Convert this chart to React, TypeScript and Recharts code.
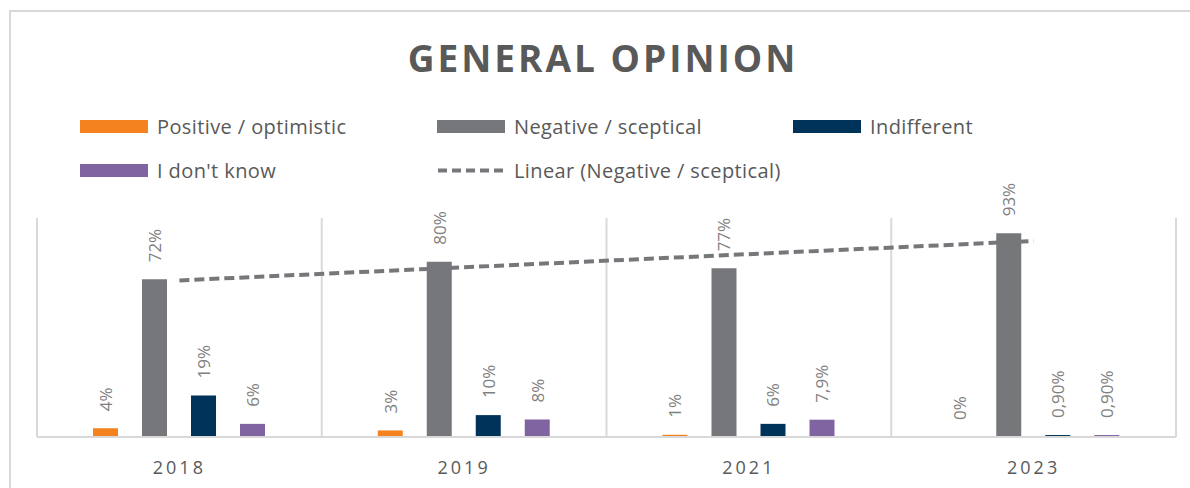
import { ComposedChart, Bar, Line, XAxis, YAxis, CartesianGrid, LabelList } from "recharts";

const years = ["2018", "2019", "2021", "2023"];
const positive = [4, 3, 1, 0];
const negative = [72, 80, 77, 93];
const indifferent = [19, 10, 6, 0.9];
const dontKnow = [6, 8, 7.9, 0.9];
// Excel linear trendline of the negative series
const trend = [71.5, 77.5, 83.5, 89.5];

const positiveLabels = ["4%", "3%", "1%", "0%"];
const negativeLabels = ["72%", "80%", "77%", "93%"];
const indifferentLabels = ["19%", "10%", "6%", "0,90%"];
const dontKnowLabels = ["6%", "8%", "7,9%", "0,90%"];

const COLORS = {
  positive: "#F4821F",
  negative: "#76777A",
  indifferent: "#00335A",
  dontKnow: "#8064A2",
  grid: "#D9D9D9",
  text: "#595959",
  label: "#7F7F7F",
};

const FONT = "'Open Sans', sans-serif";

const data = years.map((year, i) => ({
  year,
  positive: positive[i],
  negative: negative[i],
  indifferent: indifferent[i],
  dontKnow: dontKnow[i],
  trend: trend[i],
  positiveLabel: positiveLabels[i],
  negativeLabel: negativeLabels[i],
  indifferentLabel: indifferentLabels[i],
  dontKnowLabel: dontKnowLabels[i],
}));

const renderLabel = (props: any) => {
  const { x, y, width, value } = props;
  const cx = Number(x) + Number(width) / 2;
  const cy = Number(y) - 17;
  return (
    <text
      x={cx}
      y={cy}
      transform={`rotate(-90 ${cx} ${cy})`}
      textAnchor="start"
      dominantBaseline="central"
      fill={COLORS.label}
      fontSize={17}
      fontFamily={FONT}
    >
      {value}
    </text>
  );
};

const YearTick = (props: any) => {
  const { x, y, payload } = props;
  return (
    <text
      x={x}
      y={y + 29}
      textAnchor="middle"
      fill={COLORS.text}
      fontSize={18}
      fontFamily={FONT}
      letterSpacing={3}
    >
      {payload.value}
    </text>
  );
};

const legendRows = [
  [
    { name: "Positive / optimistic", color: COLORS.positive, dashed: false },
    { name: "Negative / sceptical", color: COLORS.negative, dashed: false },
    { name: "Indifferent", color: COLORS.indifferent, dashed: false },
  ],
  [
    { name: "I don't know", color: COLORS.dontKnow, dashed: false },
    { name: "Linear (Negative / sceptical)", color: COLORS.negative, dashed: true },
  ],
];
const legendCols = [80, 437, 793];
const legendRowY = [126, 170];

export default function App() {
  return (
    <div
      style={{
        position: "fixed",
        left: 0,
        top: 0,
        width: 1190,
        height: 488,
        overflow: "hidden",
        background: "#fff",
        fontFamily: FONT,
      }}
    >
      <div
        style={{
          position: "absolute",
          left: 9,
          top: 10,
          width: 1300,
          height: 600,
          border: `2px solid ${COLORS.grid}`,
        }}
      />
      <div
        style={{
          position: "absolute",
          left: 0,
          width: 1206,
          top: 32,
          textAlign: "center",
          fontSize: 37,
          fontWeight: 700,
          letterSpacing: 3,
          color: COLORS.text,
          lineHeight: "52px",
        }}
      >
        GENERAL OPINION
      </div>
      {legendRows.map((row, r) =>
        row.map((item, c) => (
          <div
            key={item.name}
            style={{
              position: "absolute",
              left: legendCols[c],
              top: legendRowY[r] - 14,
              height: 28,
              display: "flex",
              alignItems: "center",
              fontSize: 20,
              letterSpacing: 0.4,
              color: COLORS.text,
              whiteSpace: "nowrap",
            }}
          >
            {item.dashed ? (
              <svg width={68} height={13} style={{ marginRight: 9 }}>
                <line
                  x1={1}
                  y1={6.5}
                  x2={67}
                  y2={6.5}
                  stroke={item.color}
                  strokeWidth={4}
                  strokeDasharray="9 5"
                />
              </svg>
            ) : (
              <div style={{ width: 68, height: 13, background: item.color, marginRight: 9 }} />
            )}
            {item.name}
          </div>
        ))
      )}
      <div style={{ position: "absolute", left: 0, top: 0 }}>
        <ComposedChart
          width={1190}
          height={488}
          data={data}
          margin={{ top: 218, right: 14, bottom: 21, left: 37 }}
          barSize={25}
          barGap={24}
        >
          <CartesianGrid
            horizontal={false}
            stroke={COLORS.grid}
            strokeWidth={2}
            verticalCoordinatesGenerator={({ offset }: any) =>
              [0, 1, 2, 3, 4].map((i) => offset.left + (i * offset.width) / years.length)
            }
          />
          <XAxis
            dataKey="year"
            axisLine={{ stroke: COLORS.grid, strokeWidth: 2 }}
            tickLine={false}
            tick={<YearTick />}
            interval={0}
          />
          <YAxis hide domain={[0, 100]} />
          <Bar dataKey="positive" fill={COLORS.positive} minPointSize={0.01} isAnimationActive={false}>
            <LabelList dataKey="positiveLabel" content={renderLabel} />
          </Bar>
          <Bar dataKey="negative" fill={COLORS.negative} isAnimationActive={false}>
            <LabelList dataKey="negativeLabel" content={renderLabel} />
          </Bar>
          <Bar dataKey="indifferent" fill={COLORS.indifferent} isAnimationActive={false}>
            <LabelList dataKey="indifferentLabel" content={renderLabel} />
          </Bar>
          <Bar dataKey="dontKnow" fill={COLORS.dontKnow} isAnimationActive={false}>
            <LabelList dataKey="dontKnowLabel" content={renderLabel} />
          </Bar>
          <Line
            dataKey="trend"
            stroke={COLORS.negative}
            strokeWidth={4}
            strokeDasharray="10 5"
            dot={false}
            activeDot={false}
            isAnimationActive={false}
          />
        </ComposedChart>
      </div>
    </div>
  );
}
